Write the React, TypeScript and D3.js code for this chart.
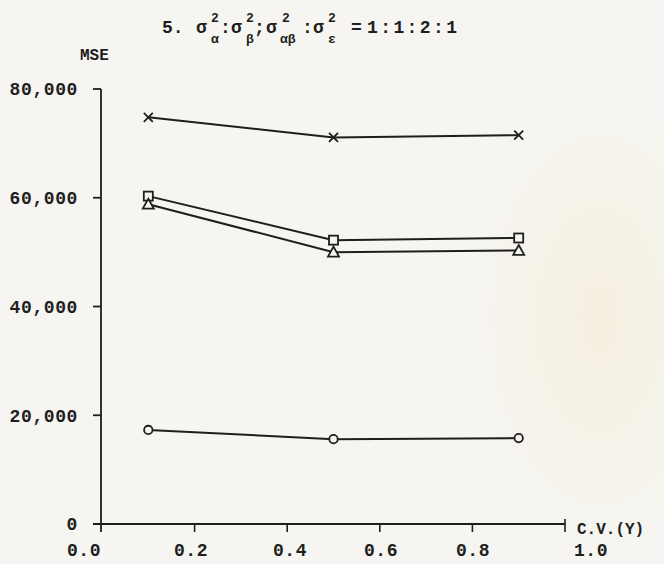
import React from "react";
import * as d3 from "d3";

// Coefficient of variation of Y (x-axis)
const cvValues = [0.1, 0.5, 0.9];

// MSE for each estimator series
const seriesCross = [74800, 71100, 71500];
const seriesSquare = [60300, 52200, 52600];
const seriesTriangle = [58800, 50000, 50300];
const seriesCircle = [17300, 15600, 15800];

const xTicks = [0, 0.2, 0.4, 0.6, 0.8, 1.0];
const xTickLabels = ["0.0", "0.2", "0.4", "0.6", "0.8", "1.0"];
const yTicks = [0, 20000, 40000, 60000, 80000];
const yTickLabels = ["0", "20,000", "40,000", "60,000", "80,000"];

const W = 664;
const H = 564;
const FONT = "'Liberation Mono', 'DejaVu Sans Mono', monospace";
const INK = "#1e1e1e";
const PAPER = "#f6f5f1";

const x = d3.scaleLinear().domain([0, 1]).range([102, 565]);
const y = d3.scaleLinear().domain([0, 80000]).range([524, 89]);

type Marker = "cross" | "square" | "triangle" | "circle";

const series: { values: number[]; marker: Marker }[] = [
  { values: seriesCross, marker: "cross" },
  { values: seriesSquare, marker: "square" },
  { values: seriesTriangle, marker: "triangle" },
  { values: seriesCircle, marker: "circle" },
];

function MarkerShape({ type, cx, cy }: { type: Marker; cx: number; cy: number }) {
  const common = { stroke: INK, strokeWidth: 1.8, fill: "none" };
  if (type === "cross") {
    const s = 4.5;
    return (
      <path d={`M${cx - s},${cy - s}L${cx + s},${cy + s}M${cx - s},${cy + s}L${cx + s},${cy - s}`} {...common} />
    );
  }
  if (type === "square") {
    const s = 4.5;
    return <rect x={cx - s} y={cy - s} width={2 * s} height={2 * s} {...common} fill={PAPER} />;
  }
  if (type === "triangle") {
    const s = 5.5;
    return (
      <path d={`M${cx},${cy - s}L${cx + s},${cy + s * 0.8}L${cx - s},${cy + s * 0.8}Z`} {...common} fill={PAPER} />
    );
  }
  return <circle cx={cx} cy={cy} r={4.2} {...common} fill={PAPER} />;
}

export default function App() {
  const line = d3
    .line<number>()
    .x((_, i) => x(cvValues[i]))
    .y((d) => y(d));

  const big = 18;
  const small = 13;

  return (
    <svg
      width={W}
      height={H}
      viewBox={`0 0 ${W} ${H}`}
      style={{ position: "absolute", left: 0, top: 0, background: PAPER }}
      fontFamily={FONT}
      fontWeight="bold"
    >
      <defs>
        <radialGradient id="paperGlow" cx="0.5" cy="0.5" r="0.5">
          <stop offset="0%" stopColor="#f2e9d0" stopOpacity={0.55} />
          <stop offset="70%" stopColor="#f4eedd" stopOpacity={0.3} />
          <stop offset="100%" stopColor={PAPER} stopOpacity={0} />
        </radialGradient>
      </defs>
      <rect width={W} height={H} fill={PAPER} />
      <ellipse cx={600} cy={320} rx={140} ry={240} fill="url(#paperGlow)" />

      {/* Title */}
      <g fill={INK} fontSize={big}>
        <text x={162} y={33}>5.</text>
        <text x={196} y={33}>σ</text>
        <text x={211} y={22} fontSize={small}>2</text>
        <text x={211} y={43} fontSize={small}>α</text>
        <text x={220} y={33}>:</text>
        <text x={231} y={33}>σ</text>
        <text x={246} y={22} fontSize={small}>2</text>
        <text x={246} y={43} fontSize={small}>β</text>
        <text x={254} y={33}>;</text>
        <text x={266} y={33}>σ</text>
        <text x={282} y={22} fontSize={small}>2</text>
        <text x={280} y={43} fontSize={small}>αβ</text>
        <text x={302} y={33}>:</text>
        <text x={313} y={33}>σ</text>
        <text x={328} y={22} fontSize={small}>2</text>
        <text x={328} y={43} fontSize={small}>ε</text>
        <text x={351} y={33}>=</text>
        <text x={367} y={33} letterSpacing={2.4}>1:1:2:1</text>
      </g>

      {/* Y axis */}
      <text x={80} y={60} fontSize={16} fill={INK}>MSE</text>
      <line x1={101} x2={101} y1={y(80000)} y2={532} stroke={INK} strokeWidth={1.8} />
      {yTicks.map((t, i) => (
        <g key={t}>
          <line x1={93} x2={101} y1={y(t)} y2={y(t)} stroke={INK} strokeWidth={1.8} />
          <text
            x={78}
            y={y(t)}
            dy="0.35em"
            textAnchor="end"
            fontSize={big}
            fill={INK}
            letterSpacing={0.6}
          >
            {yTickLabels[i]}
          </text>
        </g>
      ))}

      {/* X axis */}
      <line x1={93} x2={x(1)} y1={y(0)} y2={y(0)} stroke={INK} strokeWidth={1.8} />
      {xTicks.map((t, i) => (
        <g key={t}>
          {i > 0 && (
            <line
              x1={x(t)}
              x2={x(t)}
              y1={y(0) - (i === xTicks.length - 1 ? 5 : 0)}
              y2={y(0) + 8}
              stroke={INK}
              strokeWidth={1.6}
            />
          )}
        </g>
      ))}
      {xTickLabels.map((lab, i) => {
        const pos = [84, 191, 290, 381, 473, 591][i];
        return (
          <text key={lab} x={pos} y={556} textAnchor="middle" fontSize={big} fill={INK} letterSpacing={0.6}>
            {lab}
          </text>
        );
      })}
      <text x={577} y={534} fontSize={16} fill={INK}>C.V.(Y)</text>

      {/* Series */}
      {series.map((s, si) => (
        <g key={si}>
          <path d={line(s.values) ?? ""} fill="none" stroke={INK} strokeWidth={2} />
          {s.values.map((v, i) => (
            <MarkerShape key={i} type={s.marker} cx={x(cvValues[i])} cy={y(v)} />
          ))}
        </g>
      ))}
    </svg>
  );
}
